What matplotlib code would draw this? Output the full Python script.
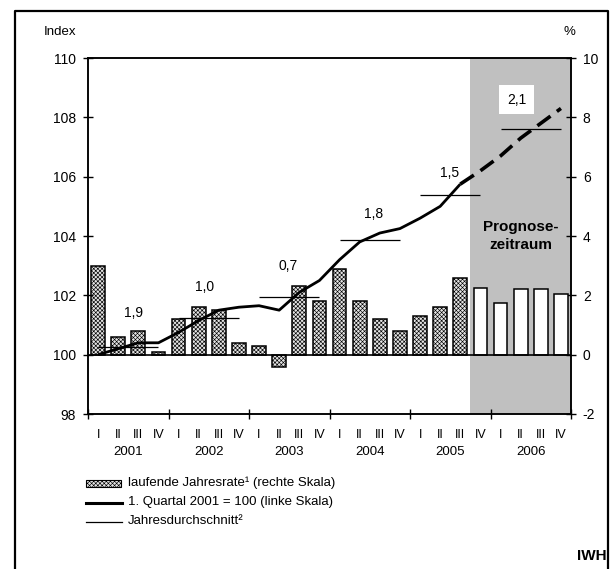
import matplotlib
matplotlib.use("Agg")
import matplotlib.pyplot as plt
from matplotlib.lines import Line2D
from matplotlib.patches import Rectangle
import numpy as np

plt.rcParams['font.family'] = ['Liberation Sans', 'DejaVu Sans']
plt.rcParams['hatch.linewidth'] = 0.45

# ---------------- data ----------------
years = ["2001", "2002", "2003", "2004", "2005", "2006"]
quarters = ["I", "II", "III", "IV"]
# laufende Jahresrate (%), right scale
rate = [3.0, 0.6, 0.8, 0.1,
        1.2, 1.6, 1.5, 0.4,
        0.3, -0.4, 2.3, 1.8,
        2.9, 1.8, 1.2, 0.8,
        1.3, 1.6, 2.6, 2.25,
        1.75, 2.2, 2.2, 2.05]
# index, 1. Quartal 2001 = 100 (left scale)
index_vals = [100.0, 100.2, 100.4, 100.4,
              100.75, 101.15, 101.5, 101.6,
              101.65, 101.5, 102.1, 102.5,
              103.2, 103.8, 104.1, 104.25,
              104.6, 105.0, 105.75, 106.2,
              106.7, 107.3, 107.8, 108.3]
# Jahresdurchschnitt (left scale)
year_avg = [100.25, 101.25, 101.95, 103.85, 105.38, 107.6]
year_growth = ["1,9", "1,0", "0,7", "1,8", "1,5", "2,1"]
first_forecast = 19     # index of first forecast quarter (IV/2005)

# label positions (x in quarter units, y in index units)
label_pos = [(2.25, 101.4), (5.8, 102.27), (9.95, 102.98),
             (14.2, 104.75), (17.95, 106.14), (21.3, 108.6)]

n = len(rate)
x = np.arange(n) + 0.5

fig = plt.figure(figsize=(6.11, 5.69), dpi=100)
W, H = 611, 569
def fx(px): return px / W
def fy(py): return 1 - py / H

ax2 = fig.add_axes([fx(88), fy(414), fx(571) - fx(88), fy(58) - fy(414)])
ax = ax2.twinx()
ax.yaxis.tick_left()
ax2.yaxis.tick_right()
ax.set_zorder(ax2.get_zorder() + 1)
ax.patch.set_visible(False)

HATCH = 'xxxxxxxx'
BAR_FACE = '#e4e4e4'

# right scale: bars
ax2.set_ylim(-2, 10)
ax2.set_xlim(0, n)
ax2.axvspan(first_forecast, n, color='#c0c0c0', lw=0, zorder=0)
for i in range(n):
    if i < first_forecast:
        ax2.bar(x[i], rate[i], width=0.68, facecolor=BAR_FACE, edgecolor='black',
                hatch=HATCH, lw=1.1, zorder=2)
    else:
        ax2.bar(x[i], rate[i], width=0.68, facecolor='white', edgecolor='black',
                lw=1.1, zorder=2)
ax2.axhline(0, color='black', lw=1.2, zorder=3)

# left scale: index line
ax.set_ylim(98, 110)
ax.set_xlim(0, n)
k = first_forecast - 1
ax.plot(x[:k + 1], index_vals[:k + 1], color='black', lw=2.0, solid_capstyle='butt', zorder=4)
ax.plot(x[k:], index_vals[k:], color='black', lw=2.6, dashes=(4.5, 2.2), zorder=4)

for j, avg in enumerate(year_avg):
    ax.hlines(avg, 4 * j + 0.5, 4 * j + 3.5, color='black', lw=0.9, zorder=3)
    lx, ly = label_pos[j]
    if j == len(year_avg) - 1:
        ax.text(lx, ly, year_growth[j], ha='center', va='center', fontsize=10, zorder=5,
                bbox=dict(facecolor='white', edgecolor='none', pad=5.5))
    else:
        ax.text(lx, ly, year_growth[j], ha='center', va='center', fontsize=10, zorder=5)

ax.text((first_forecast + n) / 2, 104.0, "Prognose-\nzeitraum", ha='center', va='center',
        fontsize=11, fontweight='bold', linespacing=1.45, zorder=5)

# axes styling
for a in (ax, ax2):
    for s in a.spines.values():
        s.set_linewidth(1.1)
ax.set_yticks(np.arange(98, 111, 2))
ax2.set_yticks(np.arange(-2, 11, 2))
ax.tick_params(axis='y', direction='inout', length=7, width=1, labelsize=10, pad=5)
ax2.tick_params(axis='y', direction='inout', length=7, width=1, labelsize=10, pad=5)
ax2.set_yticklabels([str(v) for v in range(-2, 11, 2)])
ax2.set_xticks(np.arange(0, n + 1, 4))
ax2.tick_params(axis='x', direction='inout', length=7, width=1, labelbottom=False)
ax.tick_params(axis='x', bottom=False, labelbottom=False)

trans = ax2.get_xaxis_transform()
for i in range(n):
    ax2.text(x[i], -0.058, quarters[i % 4], transform=trans, ha='center', va='center',
             fontsize=9)
for j, y in enumerate(years):
    ax2.text(4 * j + 2, -0.107, y, transform=trans, ha='center', va='center', fontsize=9.5)

# header labels
fig.text(fx(44), fy(32), "Index", ha='left', va='center', fontsize=9.5)
fig.text(fx(575), fy(32), "%", ha='right', va='center', fontsize=9.5)

# legend (manual)
fig.patches.append(Rectangle((fx(86), fy(487)), fx(121) - fx(86), fy(480) - fy(487),
                             transform=fig.transFigure, facecolor=BAR_FACE, edgecolor='black',
                             hatch=HATCH, lw=0.8))
fig.text(fx(128), fy(483), "laufende Jahresrate¹ (rechte Skala)", ha='left', va='center',
         fontsize=9.5)
fig.lines.append(Line2D([fx(86), fx(122)], [fy(502.5), fy(502.5)], transform=fig.transFigure,
                        color='black', lw=2.2))
fig.text(fx(128), fy(502.5), "1. Quartal 2001 = 100 (linke Skala)", ha='left', va='center',
         fontsize=9.5)
fig.lines.append(Line2D([fx(86), fx(122)], [fy(521.5), fy(521.5)], transform=fig.transFigure,
                        color='black', lw=0.9))
fig.text(fx(128), fy(521.5), "Jahresdurchschnitt²", ha='left', va='center', fontsize=9.5)

fig.text(fx(607), fy(556), "IWH", ha='right', va='center', fontsize=11, fontweight='bold')

# outer frame
fig.lines.append(Line2D([fx(14.5), fx(14.5), fx(607.5), fx(607.5)],
                        [fy(575), fy(10.5), fy(10.5), fy(575)],
                        transform=fig.transFigure, color='black', lw=1.6))

fig.savefig("out.png", dpi=100)
